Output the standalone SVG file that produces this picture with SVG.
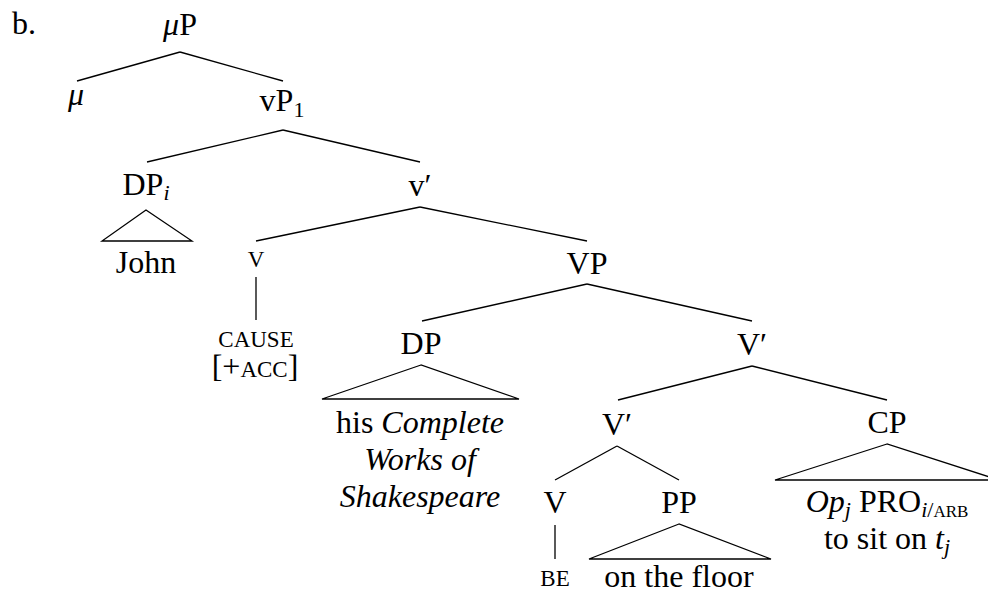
<svg xmlns="http://www.w3.org/2000/svg" width="988" height="595" viewBox="0 0 988 595">
<style>
text{font-family:"Liberation Serif","Times New Roman",serif;font-size:32px;fill:#000;text-anchor:middle}
.it{font-style:italic}
.sub{font-size:22px}
.sc{font-size:23px}
.scs{font-size:17px}
#connectors line,#connectors polygon{stroke:#000;stroke-width:1.3;fill:none;stroke-linejoin:miter}
</style>
<rect width="988" height="595" fill="#fff"/>
<g id="connectors">
<line x1="180" y1="52" x2="77" y2="81"/>
<line x1="180" y1="52" x2="283" y2="81"/>
<line x1="283" y1="130" x2="147" y2="162"/>
<line x1="283" y1="130" x2="420" y2="162"/>
<polygon points="146,210 102,241 192,241"/>
<line x1="420" y1="207" x2="256" y2="241"/>
<line x1="420" y1="207" x2="587" y2="241"/>
<line x1="256" y1="277" x2="256" y2="320"/>
<line x1="587" y1="284" x2="422" y2="321"/>
<line x1="587" y1="284" x2="752" y2="321"/>
<polygon points="421,365 322,399 519,399"/>
<line x1="752" y1="366" x2="618" y2="400"/>
<line x1="752" y1="366" x2="887" y2="400"/>
<line x1="617" y1="446" x2="555" y2="480"/>
<line x1="617" y1="446" x2="679" y2="480"/>
<polygon points="887,444 775,480 999,480"/>
<line x1="555" y1="525" x2="555" y2="559"/>
<polygon points="679,524 589,559 771,559"/>
</g>
<g id="label-b"><text x="12" y="34" style="text-anchor:start">b.</text></g>
<g id="node-muP"><text x="180" y="35"><tspan class="it">μ</tspan>P</text></g>
<g id="node-mu"><text x="76" y="105" class="it">μ</text></g>
<g id="node-vP1"><text x="282" y="111">vP<tspan class="sub" dy="6">1</tspan></text></g>
<g id="node-DPi"><text x="146" y="195">DP<tspan class="sub it" dy="5">i</tspan></text>
<text x="146" y="273">John</text></g>
<g id="node-vbar"><text x="420" y="196">v′</text></g>
<g id="node-v"><text x="256" y="267" class="sc">V</text>
<text x="256" y="347" class="sc">CAUSE</text>
<text x="255" y="377">[+<tspan class="sc">ACC</tspan>]</text></g>
<g id="node-VP"><text x="587" y="274">VP</text></g>
<g id="node-DP"><text x="421" y="354">DP</text>
<text x="420" y="433">his <tspan class="it">Complete</tspan></text>
<text x="420" y="470" class="it">Works of</text>
<text x="420" y="507" class="it">Shakespeare</text></g>
<g id="node-Vbar1"><text x="752" y="355">V′</text></g>
<g id="node-Vbar2"><text x="617" y="435">V′</text></g>
<g id="node-CP"><text x="887" y="433">CP</text>
<text x="887" y="512"><tspan class="it">Op</tspan><tspan class="sub it" dy="5">j</tspan><tspan dy="-5"> PRO</tspan><tspan class="sub it" dy="5">i</tspan><tspan class="sub">/</tspan><tspan class="scs">ARB</tspan></text>
<text x="887" y="549">to sit on <tspan class="it">t</tspan><tspan class="sub it" dy="5">j</tspan></text></g>
<g id="node-V"><text x="555" y="513">V</text>
<text x="555" y="586" class="sc">BE</text></g>
<g id="node-PP"><text x="679" y="513">PP</text>
<text x="679" y="587">on the floor</text></g>
</svg>
